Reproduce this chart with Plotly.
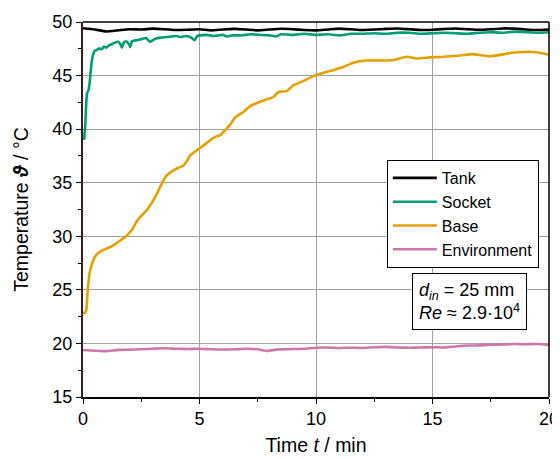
import plotly.graph_objects as go

# ---------------- data ----------------
tank_t = [0, 0.5, 1.0, 1.5, 2.0, 2.5, 3.0, 3.5, 4.0, 4.5, 5.0, 5.5, 6.0, 6.5, 7.0, 7.5, 8.0, 8.5, 9.0, 9.5,
          10.0, 10.5, 11.0, 11.5, 12.0, 12.5, 13.0, 13.5, 14.0, 14.5, 15.0, 15.5, 16.0, 16.5, 17.0, 17.5,
          18.0, 18.5, 19.0, 19.5, 20.0]
tank_T = [49.42, 49.3, 49.12, 49.22, 49.33, 49.3, 49.38, 49.33, 49.25, 49.28, 49.32, 49.22, 49.3, 49.36,
          49.3, 49.22, 49.3, 49.37, 49.33, 49.25, 49.22, 49.3, 49.38, 49.32, 49.25, 49.3, 49.36, 49.4,
          49.33, 49.25, 49.28, 49.35, 49.4, 49.33, 49.27, 49.32, 49.4, 49.38, 49.3, 49.25, 49.3]

socket_t = [0.05, 0.1, 0.14, 0.18, 0.23, 0.28, 0.33, 0.38, 0.44, 0.5, 0.6, 0.7, 0.8, 0.9, 1.0, 1.1, 1.2,
            1.3, 1.4, 1.5, 1.6, 1.67, 1.75, 1.85, 1.95, 2.03, 2.1, 2.3, 2.5, 2.7, 2.8, 2.9, 3.0, 3.2, 3.4,
            3.6, 3.8, 4.0, 4.2, 4.4, 4.6, 4.8, 4.9, 5.0, 5.3, 5.6, 6.0, 6.2, 6.4, 6.8, 7.2, 7.6, 8.0, 8.3,
            8.5, 9.0, 9.5, 10.0, 10.5, 11.0, 11.5, 12.0, 12.5, 13.0, 13.5, 14.0, 14.5, 15.0, 15.5, 16.0,
            16.5, 17.0, 17.5, 18.0, 18.5, 19.0, 19.5, 20.0]
socket_T = [39.0, 40.5, 42.5, 43.4, 43.6, 44.2, 45.4, 46.4, 47.0, 47.3, 47.4, 47.55, 47.45, 47.7, 47.6,
            47.8, 47.9, 48.0, 48.1, 48.15, 47.95, 47.6, 48.1, 48.2, 48.0, 47.65, 48.2, 48.3, 48.4, 48.5,
            48.3, 48.15, 48.3, 48.5, 48.55, 48.6, 48.65, 48.7, 48.6, 48.7, 48.6, 48.3, 48.7, 48.75, 48.8,
            48.7, 48.8, 48.65, 48.75, 48.75, 48.85, 48.8, 48.75, 48.65, 48.85, 48.8, 48.9, 48.8, 48.85,
            48.75, 48.9, 48.9, 48.95, 48.9, 49.0, 49.0, 48.9, 48.95, 49.0, 48.95, 48.9, 49.0, 49.05,
            49.0, 49.1, 49.05, 49.0, 49.05]

base_t = [0, 0.06, 0.14, 0.2, 0.28, 0.35, 0.45, 0.55, 0.67, 0.85, 1.0, 1.17, 1.4, 1.6, 1.89, 2.1, 2.31,
          2.5, 2.74, 3.03, 3.2, 3.31, 3.45, 3.6, 3.88, 4.1, 4.31, 4.45, 4.6, 4.8, 5.03, 5.25, 5.46, 5.7,
          5.89, 6.1, 6.31, 6.53, 6.88, 7.17, 7.6, 7.9, 8.17, 8.35, 8.46, 8.74, 9.03, 9.46, 9.89, 10.3,
          10.8, 11.17, 11.6, 12.17, 12.74, 13.3, 13.9, 14.3, 14.9, 15.46, 16.1, 16.74, 17.1, 17.46, 18.03,
          18.5, 18.9, 19.3, 19.6, 19.96]
base_T = [22.9, 22.8, 23.1, 24.9, 26.5, 27.2, 27.8, 28.2, 28.45, 28.7, 28.85, 29.0, 29.3, 29.6, 30.1,
          30.6, 31.4, 31.9, 32.45, 33.4, 34.1, 34.6, 35.2, 35.7, 36.15, 36.4, 36.6, 37.0, 37.55, 37.9,
          38.25, 38.6, 38.97, 39.3, 39.45, 39.9, 40.4, 41.1, 41.6, 42.15, 42.55, 42.8, 43.0, 43.4, 43.5,
          43.55, 44.1, 44.5, 44.95, 45.25, 45.55, 45.8, 46.2, 46.4, 46.4, 46.45, 46.75, 46.6, 46.7, 46.75,
          46.85, 47.0, 46.9, 46.8, 46.98, 47.15, 47.2, 47.2, 47.13, 46.98]

env_t = [0, 0.5, 1.0, 1.5, 2.0, 2.5, 3.0, 3.5, 4.0, 4.5, 5.0, 5.5, 6.0, 6.5, 7.0, 7.5, 7.9, 8.3, 9.0, 9.5,
         10.0, 10.5, 11.0, 11.5, 12.0, 12.5, 13.0, 13.5, 14.0, 14.5, 15.0, 15.5, 16.0, 16.5, 17.0, 17.5,
         18.0, 18.5, 19.0, 19.5, 20.0]
env_T = [19.38, 19.32, 19.28, 19.4, 19.42, 19.45, 19.5, 19.55, 19.5, 19.48, 19.5, 19.45, 19.43, 19.45,
         19.5, 19.45, 19.3, 19.42, 19.48, 19.5, 19.6, 19.62, 19.58, 19.6, 19.58, 19.65, 19.68, 19.62,
         19.6, 19.62, 19.65, 19.62, 19.72, 19.8, 19.82, 19.87, 19.9, 19.95, 19.92, 19.95, 19.85]

x_ticks = [0, 5, 10, 15, 20]
y_ticks = [15, 20, 25, 30, 35, 40, 45, 50]

series = [
    ("Tank", tank_t, tank_T, "#000000"),
    ("Socket", socket_t, socket_T, "#009E73"),
    ("Base", base_t, base_T, "#E69F00"),
    ("Environment", env_t, env_T, "#CC79A7"),
]

FONT = "Liberation Sans, Arial, sans-serif"

fig = go.Figure()
for name, t, T, c in series:
    fig.add_trace(go.Scatter(x=t, y=T, mode="lines", name=name,
                             line=dict(color=c, width=2.6, shape="spline", smoothing=0.4)))

# the page body has an 8 px margin, so the figure is 552x451 and margins are shifted by 8 px
fig.update_layout(
    width=552, height=451,
    margin=dict(l=75, r=11, t=14, b=62, autoexpand=False),
    paper_bgcolor="white", plot_bgcolor="white",
    font=dict(family=FONT, size=18, color="black"),
    showlegend=True,
    legend=dict(x=0.652, y=0.632, xanchor="left", yanchor="top",
                bordercolor="black", borderwidth=1, bgcolor="white",
                font=dict(size=16), tracegroupgap=0, itemwidth=44),
    xaxis=dict(range=[0, 20], tickvals=x_ticks, ticks="outside", ticklen=5, tickcolor="black",
               showline=True, linecolor="black", linewidth=1.5, showgrid=True, automargin=False,
               gridcolor="#a3a3a3", gridwidth=1.3, zeroline=False,
               minor=dict(dtick=2.5, ticks="outside", ticklen=3, tickcolor="black", showgrid=False),
               title=dict(text="Time <i>t</i> / min", font=dict(size=19.5), standoff=10),
               tickfont=dict(size=18)),
    yaxis=dict(range=[15, 50], tickvals=y_ticks, ticks="outside", ticklen=5, tickcolor="black",
               showline=True, linecolor="#3a1c1c", linewidth=2, showgrid=True, automargin=False,
               gridcolor="#a3a3a3", gridwidth=1.3, zeroline=False,
               minor=dict(dtick=2.5, ticks="outside", ticklen=3, tickcolor="black", showgrid=False),
               title=dict(text="Temperature <b><i>ϑ</i></b> / °C", font=dict(size=19.5), standoff=19),
               tickfont=dict(size=18)),
    shapes=[
        dict(type="line", xref="paper", yref="paper", x0=0, x1=1, y0=1, y1=1,
             line=dict(color="black", width=1.5)),
        dict(type="line", xref="paper", yref="paper", x0=1, x1=1, y0=0, y1=1,
             line=dict(color="black", width=1.5)),
    ],
    annotations=[
        dict(xref="paper", yref="paper", x=0.83, y=0.256, xanchor="center", yanchor="middle",
             text="<i>d</i><sub><i>in</i></sub> = 25 mm<br><i>Re</i> ≈ 2.9·10<sup>4</sup>",
             showarrow=False, align="left", bordercolor="black", borderwidth=1, borderpad=6,
             bgcolor="white", font=dict(size=18)),
    ],
)

fig.write_html("out.html")
